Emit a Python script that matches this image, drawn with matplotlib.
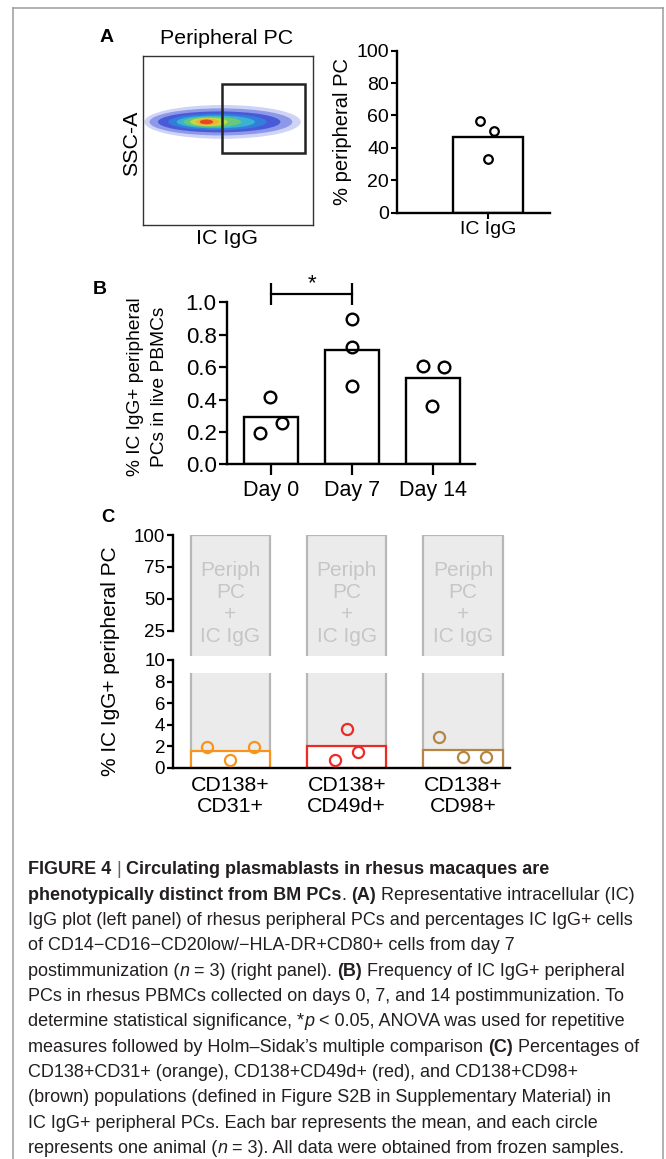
import matplotlib

matplotlib.use("Agg")

import matplotlib.pyplot as plt
from matplotlib.patches import Ellipse, Rectangle

W, H, DPI = 666, 1159, 100

# ---- data -----------------------------------------------------------------
gate_pct = "38.8"

a_label = "IC IgG"
a_mean = 46.5
a_points = [56.8, 50.4, 33.1]

b_days = ["Day 0", "Day 7", "Day 14"]
b_means = [0.294, 0.706, 0.531]
b_points = [[0.417, 0.191, 0.253], [0.895, 0.722, 0.485], [0.607, 0.602, 0.362]]

c_groups = ["CD138+\nCD31+", "CD138+\nCD49d+", "CD138+\nCD98+"]
c_means = [1.55, 2.01, 1.64]
c_points = [[1.89, 0.71, 1.89], [3.59, 0.71, 1.49], [2.88, 1.02, 1.02]]
c_box_text = "Periph\nPC\n+\nIC IgG"

# ---- layout / style -------------------------------------------------------
A_JIT = [-0.11, 0.085, 0.0]
B_JIT = [[-0.015, -0.138, 0.13], [0.0, 0.0, 0.0], [-0.123, 0.13, -0.02]]
C_JIT = [[-0.198, 0.0, 0.204], [0.0, -0.103, 0.097], [-0.204, 0.0, 0.198]]
C_COLORS = ["#f7941d", "#ee2a24", "#b58545"]
GRAY_FILL = "#ebebeb"
GRAY_EDGE = "#b7b7b7"
GRAY_TEXT = "#c6c6c6"
FONT = "Liberation Sans"
CAP_FONT = ["Liberation Sans Narrow", "DejaVu Sans Condensed", "Liberation Sans"]

# flow plot: nested density layers (x centre, half width, half height, colour, alpha)
FLOW_LAYERS = [
    (0.47, 0.46, 0.100, "#c3c9f4", 0.8),
    (0.46, 0.42, 0.080, "#7d8ae6", 0.8),
    (0.45, 0.36, 0.062, "#3d4fd6", 0.85),
    (0.44, 0.29, 0.048, "#2f86dc", 0.85),
    (0.43, 0.23, 0.038, "#3cbcd4", 0.85),
    (0.41, 0.17, 0.031, "#70cc6a", 0.9),
    (0.39, 0.11, 0.025, "#c8de44", 0.9),
    (0.38, 0.07, 0.020, "#f4b032", 0.9),
    (0.375, 0.04, 0.014, "#e83a20", 0.9),
]
FLOW_Y = 0.61

plt.rcParams["font.family"] = FONT

fig = plt.figure(figsize=(W / DPI, H / DPI), dpi=DPI)
bg = fig.add_axes([0, 0, 1, 1], zorder=0)
bg.set_xlim(0, W)
bg.set_ylim(H, 0)
bg.axis("off")


def px_axes(left, top, right, bottom):
    """Axes placed by pixel edges of the 666x1159 canvas."""
    return fig.add_axes([left / W, 1 - bottom / H, (right - left) / W, (bottom - top) / H],
                        zorder=2)


def bar_style(ax, lw=1.7):
    for s in ("top", "right"):
        ax.spines[s].set_visible(False)
    for s in ("left", "bottom"):
        ax.spines[s].set_linewidth(lw)
    ax.patch.set_visible(False)


# ---- outer frame ------------------------------------------------------------
frame_kw = dict(color="#9c9c9c", lw=1.1)
bg.plot([13.3, 662.7], [8.3, 8.3], **frame_kw)
bg.plot([13.3, 13.3], [8.3, H], **frame_kw)
bg.plot([662.7, 662.7], [8.3, H], **frame_kw)

# ---- panel A: flow plot -------------------------------------------------------
axF = px_axes(142.7, 56, 312.7, 225)
axF.set_xlim(0, 1)
axF.set_ylim(0, 1)
axF.set_xticks([])
axF.set_yticks([])
for s in axF.spines.values():
    s.set_linewidth(1.0)
    s.set_color("#333333")
for cx, hw, hh, col, al in FLOW_LAYERS:
    axF.add_patch(Ellipse((cx, FLOW_Y), 2 * hw, 2 * hh, facecolor=col, edgecolor="none",
                          alpha=al))
axF.add_patch(Rectangle((0.466, 0.426), 0.489, 0.408, fill=False, lw=1.8, ec="#222222"))

bg.text(107, 38, "A", fontsize=14, fontweight="bold", ha="center", va="center")
bg.text(227, 38, "Peripheral PC", fontsize=15.4, ha="center", va="center")
bg.text(265, 174, gate_pct, fontsize=15.4, ha="center", va="center")
bg.text(227, 238, "IC IgG", fontsize=15.4, ha="center", va="center")
bg.text(132, 143, "SSC-A", fontsize=15.4, rotation=90, ha="center", va="center")

# ---- panel A: bar ---------------------------------------------------------------
axA = px_axes(397.3, 50.7, 550, 212.7)
bar_style(axA)
axA.bar(0, a_mean, width=1.0, facecolor="white", edgecolor="black", linewidth=1.7, zorder=2)
axA.plot(A_JIT, a_points, "o", mfc="none", mec="black", ms=6.2, mew=1.6, zorder=3,
         clip_on=False)
axA.set_xlim(-1.29, 0.88)
axA.set_ylim(0, 100)
axA.set_yticks(range(0, 101, 20))
axA.set_xticks([0])
axA.set_xticklabels([a_label])
axA.tick_params(labelsize=14, length=4.5, width=1.5, pad=1.5)
bg.text(343, 131.7, "% peripheral PC", fontsize=14.5, rotation=90, ha="center", va="center")

# ---- panel B ----------------------------------------------------------------------
axB = px_axes(226.7, 302.3, 475, 464.3)
bar_style(axB)
for i, (m, pts) in enumerate(zip(b_means, b_points)):
    axB.bar(i, m, width=0.673, facecolor="white", edgecolor="black", linewidth=1.7, zorder=2)
    axB.plot([i + j for j in B_JIT[i]], pts, "o", mfc="none", mec="black", ms=8.4,
             mew=1.7, zorder=3, clip_on=False)
axB.set_xlim(-0.549, 2.516)
axB.set_ylim(0, 1.0)
axB.set_yticks([0.0, 0.2, 0.4, 0.6, 0.8, 1.0])
axB.set_yticklabels([f"{v:.1f}" for v in axB.get_yticks()])
axB.set_xticks(range(len(b_days)))
axB.set_xticklabels(b_days)
axB.tick_params(axis="y", labelsize=16, length=5.8, width=1.6, pad=1.5)
axB.tick_params(axis="x", labelsize=15.5, length=8, width=1.6, pad=3)
# significance bracket Day 0 vs Day 7
axB.plot([0, 1], [1.051, 1.051], color="black", lw=1.6, clip_on=False)
axB.vlines([0, 1], 0.983, 1.121, color="black", lw=1.6, clip_on=False)
axB.text(0.5, 1.078, "*", fontsize=16, ha="center", va="baseline")

bg.text(100, 290, "B", fontsize=14, fontweight="bold", ha="center", va="center")
bg.text(135.5, 387, "% IC IgG+ peripheral", fontsize=13.8, rotation=90, ha="center",
        va="center")
bg.text(160, 387, "PCs in live PBMCs", fontsize=13.8, rotation=90, ha="center",
        va="center")

# ---- panel C (broken y axis) -------------------------------------------------------
UP_LO = 5.2
axCu = px_axes(172.7, 535, 510, 656)
axCl = px_axes(172.7, 660, 510, 767.7)
for ax in (axCu, axCl):
    bar_style(ax, lw=1.7)
    ax.set_xlim(-0.495, 2.403)
axCu.spines["bottom"].set_visible(False)
axCu.spines["left"].set_bounds(25, 100)
axCu.set_ylim(UP_LO, 100)
axCu.set_yticks([25, 50, 75, 100])
axCu.set_xticks([])
axCl.set_ylim(0, 10)
axCl.set_yticks(range(0, 11, 2))
axCl.set_xticks(range(len(c_groups)))
axCl.set_xticklabels(c_groups, linespacing=1.1)
for ax in (axCu, axCl):
    ax.tick_params(axis="y", labelsize=13.5, length=4.5, width=1.6, pad=1)
axCl.tick_params(axis="x", labelsize=15.4, length=0, pad=6)

BW = 0.681
LOW_TOP = 8.8
for i in range(len(c_groups)):
    x0, x1 = i - BW / 2, i + BW / 2
    axCu.bar(i, 100 - UP_LO, bottom=UP_LO, width=BW, color=GRAY_FILL, zorder=1)
    axCu.vlines([x0, x1], UP_LO, 100, color=GRAY_EDGE, lw=1.6, zorder=1.5)
    axCu.hlines(100, x0, x1, color=GRAY_EDGE, lw=1.6, zorder=1.5)
    axCu.text(i, 0.435, c_box_text, transform=axCu.get_xaxis_transform(), color=GRAY_TEXT,
              fontsize=15, ha="center", va="center", linespacing=1.2)
    axCl.bar(i, LOW_TOP, width=BW, color=GRAY_FILL, zorder=1)
    axCl.vlines([x0, x1], 0, LOW_TOP, color=GRAY_EDGE, lw=1.6, zorder=1.5)
    axCl.bar(i, c_means[i], width=BW, facecolor="white", edgecolor=C_COLORS[i],
             linewidth=1.6, zorder=2)
    axCl.plot([i + j for j in C_JIT[i]], c_points[i], "o", mfc="none", mec=C_COLORS[i],
              ms=8.0, mew=1.6, zorder=3, clip_on=False)

bg.text(108, 517, "C", fontsize=13.3, fontweight="bold", ha="center", va="center")
bg.text(110, 661, "% IC IgG+ peripheral PC", fontsize=15, rotation=90, ha="center",
        va="center")

# ---- caption -------------------------------------------------------------------------
CAPTION = [
    [("FIGURE 4", "b"), (" | ", "l"), ("Circulating plasmablasts in rhesus macaques are", "b")],
    [("phenotypically distinct from BM PCs", "b"), (". ", "n"), ("(A)", "b"),
     (" Representative intracellular (IC)", "n")],
    [("IgG plot (left panel) of rhesus peripheral PCs and percentages IC IgG+ cells", "n")],
    [("of CD14\u2212CD16\u2212CD20low/\u2212HLA-DR+CD80+ cells from day 7", "n")],
    [("postimmunization (", "n"), ("n", "i"), (" = 3) (right panel). ", "n"), ("(B)", "b"),
     (" Frequency of IC IgG+ peripheral", "n")],
    [("PCs in rhesus PBMCs collected on days 0, 7, and 14 postimmunization. To", "n")],
    [("determine statistical significance, *", "n"), ("p", "i"),
     (" < 0.05, ANOVA was used for repetitive", "n")],
    [("measures followed by Holm\u2013Sidak\u2019s multiple comparison ", "n"), ("(C)", "b"),
     (" Percentages of", "n")],
    [("CD138+CD31+ (orange), CD138+CD49d+ (red), and CD138+CD98+", "n")],
    [("(brown) populations (defined in Figure S2B in Supplementary Material) in", "n")],
    [("IC IgG+ peripheral PCs. Each bar represents the mean, and each circle", "n")],
    [("represents one animal (", "n"), ("n", "i"),
     (" = 3). All data were obtained from frozen samples.", "n")],
]
CAP_X, CAP_Y0, CAP_DY, CAP_SIZE = 28, 874.5, 25.3, 13
STYLES = {
    "n": dict(fontweight="normal", fontstyle="normal", color="#231f20"),
    "b": dict(fontweight="bold", fontstyle="normal", color="#231f20"),
    "i": dict(fontweight="normal", fontstyle="italic", color="#231f20"),
    "l": dict(fontweight="normal", fontstyle="normal", color="#666666"),
}

renderer = fig.canvas.get_renderer()


def text_width(s, kw):
    t = bg.text(0, 0, s, family=CAP_FONT, fontsize=CAP_SIZE, **kw)
    w = t.get_window_extent(renderer).width
    t.remove()
    return w


space_w = {k: text_width("x x", kw) - text_width("xx", kw) for k, kw in STYLES.items()}

for row, segs in enumerate(CAPTION):
    x = CAP_X
    y = CAP_Y0 + row * CAP_DY
    for s, st in segs:
        kw = STYLES[st]
        core = s.strip(" ")
        lead = len(s) - len(s.lstrip(" "))
        trail = len(s) - len(s.rstrip(" "))
        x += lead * space_w[st]
        if core:
            t = bg.text(x, y, core, family=CAP_FONT, fontsize=CAP_SIZE, ha="left",
                        va="baseline", **kw)
            x += t.get_window_extent(renderer).width
        x += trail * space_w[st]

fig.savefig("out.png", dpi=DPI)
